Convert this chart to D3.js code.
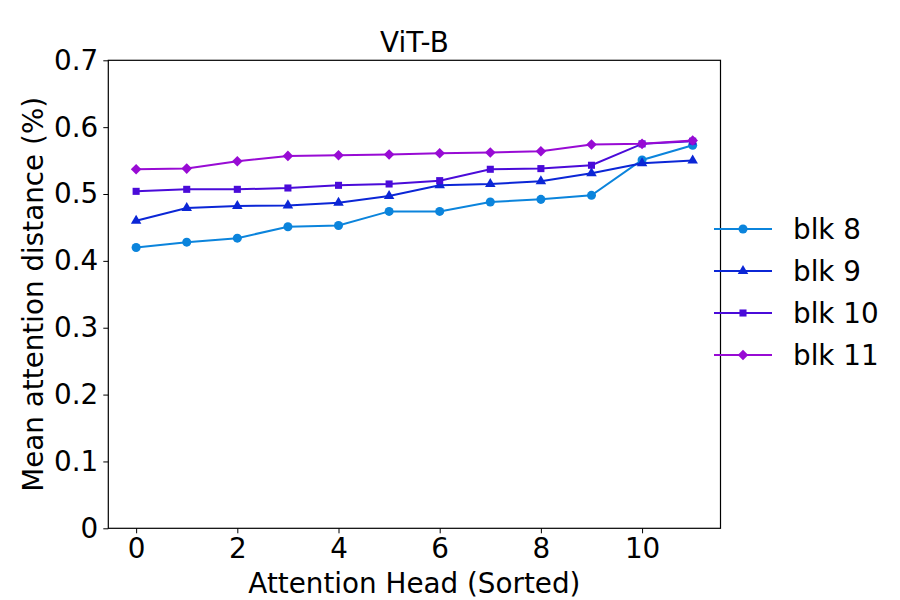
<!DOCTYPE html>
<html>
<head>
<meta charset="utf-8">
<script src="https://cdn.jsdelivr.net/npm/d3@7"></script>
<style>
body { margin: 0; background: #fff; }
text { font-family: "DejaVu Sans", sans-serif; fill: #000; }
</style>
</head>
<body>
<svg width="900" height="600"></svg>
<script>
// data
var heads = [0,1,2,3,4,5,6,7,8,9,10,11];
var blk8  = [0.420,0.428,0.434,0.451,0.453,0.474,0.474,0.488,0.492,0.498,0.551,0.573];
var blk9  = [0.460,0.479,0.482,0.483,0.487,0.497,0.513,0.515,0.519,0.531,0.546,0.550];
var blk10 = [0.504,0.507,0.507,0.509,0.513,0.515,0.520,0.537,0.538,0.543,0.575,0.579];
var blk11 = [0.537,0.538,0.549,0.557,0.558,0.559,0.561,0.562,0.564,0.574,0.575,0.580];
var seriesNames = ["blk 8","blk 9","blk 10","blk 11"];
var yTicks = [0,0.1,0.2,0.3,0.4,0.5,0.6,0.7];
var xTicks = [0,2,4,6,8,10];

var colors = ["#0b84dc","#0b26d6","#4a0bd9","#980bd4"];
var symbols = [d3.symbolCircle, d3.symbolTriangle, d3.symbolSquare, d3.symbolSquare];
var sizes = [64, 48, 50, 56];
var rotations = [0, 0, 0, 45];

var svg = d3.select("svg");
var pLeft = 108.3, pRight = 720.5, pTop = 60.3, pBottom = 528.3;
var fs = "27.8px";

var x = d3.scaleLinear().domain([-0.55, 11.55]).range([pLeft, pRight]);
var y = d3.scaleLinear().domain([0, 0.7]).range([pBottom, pTop]);

var series = [blk8, blk9, blk10, blk11].map(function(vals, i) {
  return {name: seriesNames[i], color: colors[i], symbol: symbols[i], size: sizes[i], rot: rotations[i],
    points: vals.map(function(v, j) { return {x: heads[j], y: v}; })};
});

var line = d3.line().x(function(d){ return x(d.x); }).y(function(d){ return y(d.y); });

var plot = svg.append("g");
series.forEach(function(s) {
  plot.append("path")
    .attr("d", line(s.points))
    .attr("fill", "none")
    .attr("stroke", s.color)
    .attr("stroke-width", 2);
  plot.selectAll(null)
    .data(s.points)
    .enter()
    .append("path")
    .attr("transform", function(d){ return "translate(" + x(d.x) + "," + y(d.y) + ") rotate(" + s.rot + ")"; })
    .attr("d", d3.symbol().type(s.symbol).size(s.size))
    .attr("fill", s.color);
});

// axes
var xAxis = svg.append("g")
  .attr("transform", "translate(0," + pBottom + ")")
  .call(d3.axisBottom(x).tickValues(xTicks).tickSize(5).tickPadding(5).tickFormat(d3.format("d")));
var yAxis = svg.append("g")
  .attr("transform", "translate(" + pLeft + ",0)")
  .call(d3.axisLeft(y).tickValues(yTicks).tickSize(5).tickPadding(5)
    .tickFormat(function(d){ return d === 0 ? "0" : d3.format(".1f")(d); }));
[xAxis, yAxis].forEach(function(a) {
  a.select(".domain").remove();
  a.selectAll("line").attr("stroke", "#000").attr("stroke-width", 1);
  a.selectAll("text").style("font-size", fs).attr("fill", "#000");
});

// frame
svg.append("rect")
  .attr("x", pLeft).attr("y", pTop)
  .attr("width", pRight - pLeft).attr("height", pBottom - pTop)
  .attr("fill", "none").attr("stroke", "#000").attr("stroke-width", 1.2);

// title and labels
svg.append("text")
  .attr("x", (pLeft + pRight) / 2).attr("y", 52)
  .attr("text-anchor", "middle")
  .style("font-size", fs)
  .text("ViT-B");

svg.append("text")
  .attr("x", (pLeft + pRight) / 2).attr("y", 593)
  .attr("text-anchor", "middle")
  .style("font-size", fs)
  .text("Attention Head (Sorted)");

svg.append("text")
  .attr("transform", "translate(43," + ((pTop + pBottom) / 2) + ") rotate(-90)")
  .attr("text-anchor", "middle")
  .style("font-size", fs)
  .text("Mean attention distance (%)");

// legend
var legend = svg.append("g");
series.forEach(function(s, i) {
  var ly = 229 + i * 42;
  legend.append("line")
    .attr("x1", 714).attr("x2", 772)
    .attr("y1", ly).attr("y2", ly)
    .attr("stroke", s.color).attr("stroke-width", 2);
  legend.append("path")
    .attr("transform", "translate(743," + ly + ") rotate(" + s.rot + ")")
    .attr("d", d3.symbol().type(s.symbol).size(s.size))
    .attr("fill", s.color);
  legend.append("text")
    .attr("x", 793).attr("y", ly + 10)
    .style("font-size", fs)
    .text(s.name);
});
</script>
</body>
</html>
